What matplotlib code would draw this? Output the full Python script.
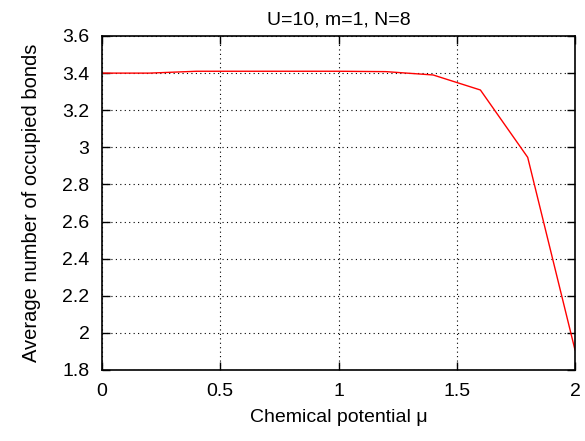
import matplotlib.pyplot as plt

# Potencial químico e número médio de ligações ocupadas
mu = [0.0, 0.2, 0.4, 0.6, 0.8, 1.0, 1.2, 1.4, 1.6, 1.8, 2.0]
ligacoes = [3.40, 3.40, 3.41, 3.41, 3.41, 3.41, 3.408, 3.39, 3.309, 2.946, 1.908]

x_ticks = [0, 0.5, 1, 1.5, 2]
x_labels = ["0", "0.5", "1", "1.5", "2"]
y_ticks = [1.8, 2.0, 2.2, 2.4, 2.6, 2.8, 3.0, 3.2, 3.4, 3.6]
y_labels = ["1.8", "2", "2.2", "2.4", "2.6", "2.8", "3", "3.2", "3.4", "3.6"]

plt.rcParams['font.family'] = ['Liberation Sans', 'DejaVu Sans']

fig = plt.figure(figsize=(5.85, 4.41), dpi=100)
ax = fig.add_axes([102 / 585, 1 - 370 / 441, 473 / 585, 334 / 441])

ax.plot(mu, ligacoes, color='red', linewidth=1.0)

ax.set_xlim(0, 2)
ax.set_ylim(1.8, 3.6)
ax.set_xticks(x_ticks)
ax.set_xticklabels(x_labels)
ax.set_yticks(y_ticks)
ax.set_yticklabels(y_labels)
ax.tick_params(direction='in', top=True, right=True, length=6, width=1,
               labelsize=14, pad=9)
ax.grid(True, color='black', linestyle=(0, (1, 3)), linewidth=0.8)
for spine in ax.spines.values():
    spine.set_linewidth(1.2)

ax.set_title("U=10, m=1, N=8", fontsize=14, pad=8)
ax.set_xlabel("Chemical potential μ", fontsize=14, labelpad=7)
ax.set_ylabel("Average number of occupied bonds", fontsize=14.5, labelpad=15)

plt.savefig("out.png", dpi=100)
plt.close()
